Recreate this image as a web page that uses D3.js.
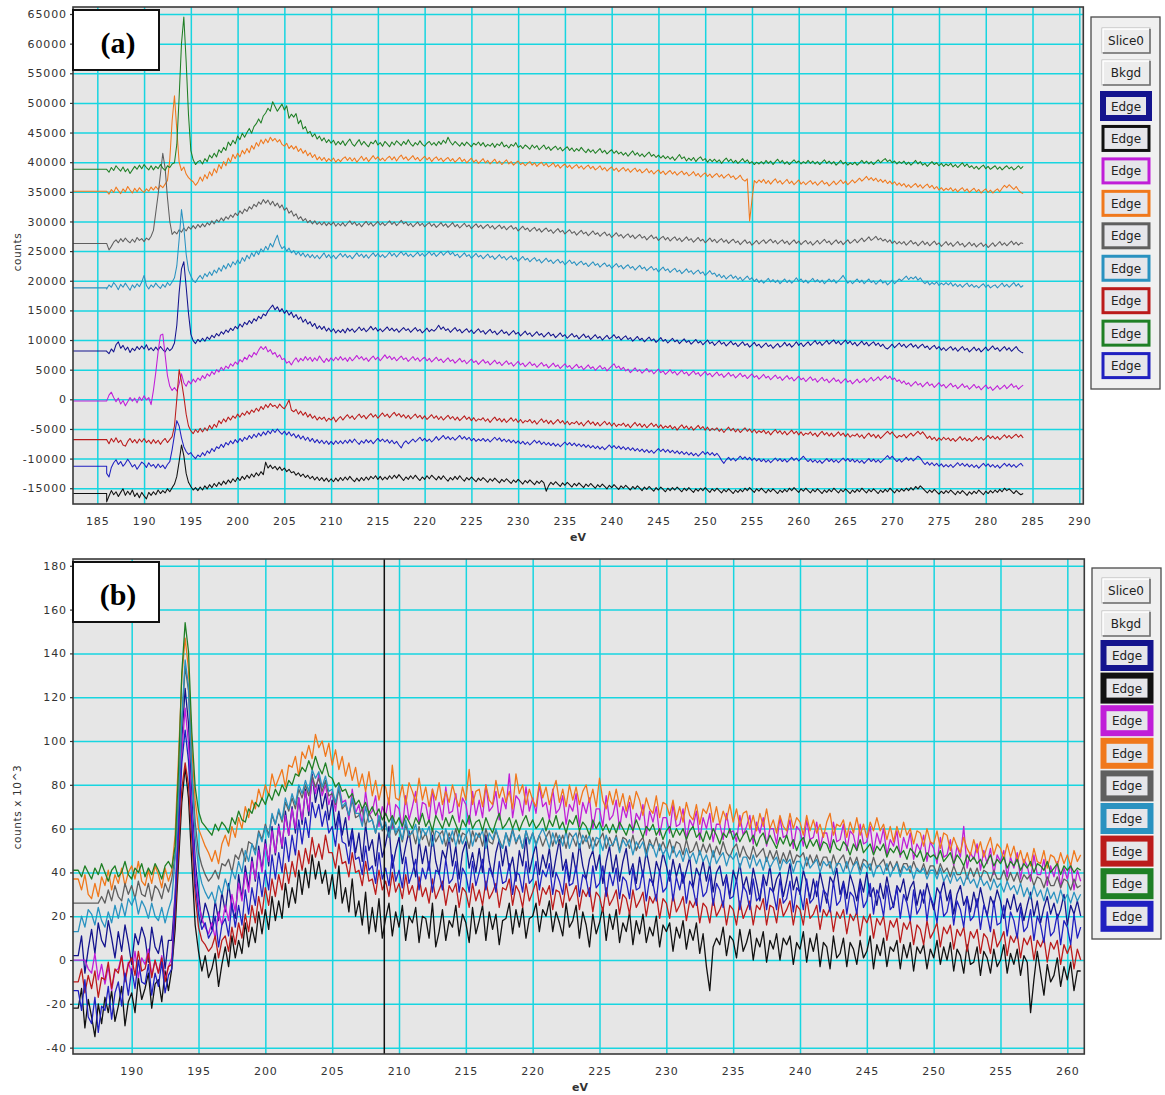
<!DOCTYPE html>
<html>
<head>
<meta charset="utf-8">
<title>EELS edge spectra</title>
<script src="https://cdn.jsdelivr.net/npm/d3@7"></script>
<style>
  html, body { margin: 0; padding: 0; background: #ffffff; }
  svg { display: block; }
</style>
</head>
<body>
<svg id="chart" width="1165" height="1095"></svg>
<script>
// ---------------- data ----------------
// Series order (same in both panels and in the legend):
// navy, black, magenta, orange, gray, teal, red, green, blue
const seriesColors = ['#14148e', '#111111', '#c01ed8', '#f0781c', '#5f5f5f', '#2a92c0', '#bb1b1b', '#1f7f25', '#2020c0'];
const legendButtons = ['Slice0', 'Bkgd'];
const edgeLabel = 'Edge';

const xTicksA = [185, 190, 195, 200, 205, 210, 215, 220, 225, 230, 235, 240, 245, 250, 255, 260, 265, 270, 275, 280, 285, 290];
const yTicksA = [-15000, -10000, -5000, 0, 5000, 10000, 15000, 20000, 25000, 30000, 35000, 40000, 45000, 50000, 55000, 60000, 65000];
const xTicksB = [190, 195, 200, 205, 210, 215, 220, 225, 230, 235, 240, 245, 250, 255, 260];
const yTicksB = [-40, -20, 0, 20, 40, 60, 80, 100, 120, 140, 160, 180];
const cursorB = 208.9;

// Panel (a): offset spectra in counts, one sample every 0.25 eV from 186 to 284 eV
const energyA = d3.range(393).map(i => 186 + i * 0.25);
// level of the flat segment drawn before the first sample
const leadA = [8150, -15900, -300, 35100, 26300, 18800, -6800, 38800, -11300];

const aNavy = [
  8100,7700,8500,8000,9200,9700,8600,9100,8300,8800,7900,8600,8200,8900,8400,9000,8500,9200,8300,8700,
  8200,8800,8300,8900,8400,8000,8700,8200,8600,9500,12500,18000,22000,23200,19000,14500,11000,9900,9400,10100,
  9700,10300,9800,10500,10100,10800,10400,11100,10700,11400,11000,11700,11300,12000,11600,12300,11900,12700,12200,13000,
  12600,13300,12800,13600,13200,14000,13600,14400,14100,14900,15400,15900,15100,15600,14800,15300,14500,15000,14200,14700,
  13800,14300,13500,13900,13000,13500,12700,13100,12300,12800,11900,12400,11800,12300,11500,12000,11400,11900,11200,11700,
  11300,11800,11200,12000,11500,11900,11300,11700,12200,11600,12000,11400,11800,12300,11700,12100,11500,11900,11400,11800,
  12200,11600,12000,11500,11900,11300,11700,12100,11600,11900,11300,11700,12100,11500,11800,11200,11600,12000,11400,11800,
  11500,11900,12500,11800,12200,11600,11900,11300,11700,12100,11500,11800,11200,11600,11900,11300,11700,11100,11500,11900,
  11300,11600,11000,11400,11800,11200,11500,10900,11300,11700,11100,11400,10800,11200,11600,11000,11300,10700,11100,11500,
  10900,11200,10600,11000,11400,10800,11100,10500,10900,11300,10700,11000,10400,10800,11200,10600,10900,10300,10700,11100,
  10500,10800,10200,10600,11000,10400,10700,10100,10500,10900,10300,10600,10000,10400,10800,10200,10500,10900,10300,10600,
  10000,10400,10700,10100,10400,9800,10200,10600,10000,10300,9700,10100,10500,9900,10200,9600,10000,10400,9800,10100,
  9500,9900,10300,9700,10000,9400,9800,10200,9600,9900,9300,9700,10100,9500,9800,9200,9600,10000,9400,9700,
  9100,9500,9900,9300,9600,9000,9400,9800,9200,9500,8900,9300,9700,9100,9400,8800,9200,9600,9000,9300,
  8700,9100,9500,8900,9200,8600,9000,9400,8800,9100,9600,9000,9400,8800,9200,9700,9100,9500,8900,9300,
  9700,9100,9500,9900,9300,9700,9100,9500,9900,9300,9700,10000,9400,9800,9200,9600,10000,9400,9800,9200,
  9600,9000,9400,9800,9200,9600,9000,9400,9700,9100,9500,8900,9300,8700,8500,8900,9300,8700,9100,9500,
  8900,9300,8700,9100,9400,8800,9200,8600,9000,9300,8700,9000,8400,8800,9100,8500,8900,8300,8700,8200,
  8600,8900,8300,8700,8100,8500,8900,8300,8600,8000,8400,8800,8200,8600,8000,8400,8800,8200,8600,9000,
  8400,8700,8100,8500,8900,8300,8700,8100,8500,8900,8300,8000,7800
];
const aBlack = [
  -17300,-16300,-15400,-16100,-15600,-16400,-15700,-15100,-16200,-15500,-16100,-15300,-16400,-15800,-16600,-15700,-16300,-16800,-15700,-16200,
  -15600,-16100,-15300,-15900,-15400,-15800,-15100,-15600,-14900,-14300,-13000,-10500,-7700,-9500,-12500,-14000,-14700,-15300,-14900,-15400,
  -14800,-15300,-14600,-15100,-14400,-14900,-14200,-14700,-14000,-14500,-13800,-14300,-13600,-14100,-13400,-13900,-13200,-13700,-13000,-13500,
  -12800,-13300,-12600,-13100,-12400,-12900,-12200,-12700,-10600,-11600,-11100,-11700,-11300,-11900,-11400,-12000,-11600,-12200,-11800,-12400,
  -12200,-12800,-12400,-13000,-12600,-13200,-12800,-13400,-13000,-13600,-13100,-13700,-13200,-13800,-13300,-13900,-13400,-13900,-13300,-13800,
  -13200,-13700,-13100,-13600,-13000,-13500,-13900,-13300,-13800,-13200,-13700,-13100,-13600,-13000,-13400,-12900,-13500,-13000,-13600,-13100,
  -13500,-12900,-13400,-12800,-13300,-12700,-13200,-13700,-13100,-13500,-12900,-13400,-12800,-13300,-13700,-13100,-13500,-12900,-13400,-12800,
  -13200,-13600,-13000,-13500,-12900,-13400,-13800,-13200,-13600,-13000,-13500,-12900,-13400,-13800,-13200,-13600,-13100,-13500,-13900,-13300,
  -13700,-13200,-13600,-14000,-13400,-13800,-13300,-13700,-14100,-13500,-13900,-13400,-13800,-14200,-13600,-14000,-13500,-13900,-14300,-13700,
  -14100,-13600,-14000,-14400,-13800,-14200,-13700,-14100,-15500,-14600,-14000,-14400,-13900,-14300,-14700,-14100,-14500,-14000,-14400,-14800,
  -14200,-14600,-14100,-14500,-14900,-14300,-14700,-14200,-14600,-15000,-14400,-14800,-14300,-14700,-15100,-14500,-14900,-14400,-14800,-15200,
  -14600,-15000,-14500,-14900,-15300,-14700,-15100,-14600,-15000,-15400,-14800,-15200,-14700,-15100,-15500,-14900,-15300,-14800,-15200,-15600,
  -15000,-15400,-14900,-15300,-14800,-15200,-15600,-15000,-15400,-14900,-15300,-15700,-15100,-15500,-15000,-15400,-14900,-15300,-15700,-15100,
  -15500,-15000,-15400,-15800,-15200,-15600,-15100,-15500,-15900,-15300,-15700,-15200,-15600,-15000,-15400,-14900,-15300,-15700,-15100,-15500,
  -15000,-15400,-15800,-15200,-15600,-15100,-15500,-15900,-15300,-15700,-15200,-15600,-15000,-15400,-14900,-15300,-15700,-15100,-15500,-15000,
  -15400,-15800,-15200,-15600,-15100,-15500,-15900,-15300,-15700,-15200,-15600,-15000,-15400,-15800,-15200,-15600,-15100,-15500,-15900,-15300,
  -15700,-15200,-15600,-15000,-15400,-15800,-15200,-15600,-15100,-15500,-15900,-15300,-15700,-15200,-15600,-15000,-15400,-15800,-15200,-15600,
  -15100,-15500,-15000,-15400,-14900,-15300,-14700,-15100,-14600,-15000,-15400,-15800,-15300,-15700,-15200,-15600,-16000,-15500,-15900,-15400,
  -15800,-15300,-15700,-16100,-15500,-15900,-15400,-15800,-16200,-15600,-16000,-15500,-15900,-15300,-15700,-16100,-15500,-15900,-15400,-15800,
  -15300,-15700,-15200,-15600,-15000,-15400,-15100,-15500,-15900,-15400,-15800,-16100,-15900
];
const aMagenta = [
  -300,700,1200,300,-400,200,-800,-200,-1100,-400,300,-300,200,-600,400,-200,600,-100,300,-900,
  1500,4500,8000,10800,11000,7500,4000,2200,1500,2000,1400,2600,4300,2800,2200,3100,2600,3400,2900,3600,
  3200,4000,3500,4300,3900,4700,4200,5000,4600,5400,4900,5600,5200,6000,5600,6300,5900,6700,6300,7100,
  6700,7500,7100,7900,7500,8300,8900,8400,8900,8000,8400,7600,7900,7100,7500,6700,6900,6100,6400,5800,
  6500,7000,6300,6900,6500,7200,6600,7100,6400,7000,6500,7300,6700,6200,6900,6400,7000,6500,7100,6600,
  7200,6600,7000,6400,7100,6500,6900,7400,6800,7200,6600,7000,6400,6900,7300,6700,7100,6500,7000,7500,
  6900,7300,6700,7100,6500,6900,7300,6700,7000,6400,6800,7200,6600,7000,6400,6800,7100,6500,6900,6300,
  6700,7100,6500,6800,6200,6600,7000,6400,6700,6100,6500,6900,6300,6600,6000,6400,6800,6200,6500,5900,
  6300,6700,6100,6400,5800,6200,6600,6000,6300,5700,6100,6500,5900,6200,5600,6000,6400,5800,6100,5500,
  5900,6300,5700,6000,5400,5800,6200,5600,5900,5300,5700,6100,5500,5800,5200,5600,6000,5400,5700,5100,
  5500,5900,5300,5600,5000,5400,5800,5200,5500,4900,5300,5700,5100,5400,4800,5200,5600,6000,5300,5600,
  5000,5400,4800,5100,4500,4900,5300,4700,5000,4400,4800,5200,4600,4900,4300,4700,5100,4500,4800,4200,
  4600,5000,4400,4700,4100,4500,4900,4300,4600,4000,4400,4800,4200,4500,3900,4300,4700,4100,4400,3800,
  4200,4600,4000,4300,3700,4100,4500,3900,4200,3600,4000,4400,3800,4100,3500,3900,4300,3700,4000,3400,
  3800,4200,3600,3900,3300,3700,4100,3500,3800,3200,3600,4000,3400,3700,3100,3500,3900,3300,3600,3000,
  3400,3800,3200,3500,2900,3300,3700,3100,3400,2800,3200,3600,3000,3300,2700,3100,3500,2900,3200,2600,
  3000,3400,2800,3100,3500,2900,3300,3700,3100,3400,3800,3200,3600,4000,3500,3900,3300,3600,3000,3300,
  2700,3100,2500,2800,2200,2600,3000,2400,2700,2100,2500,2900,2300,2600,2000,2400,2800,2200,2500,1900,
  2300,2700,2100,2400,1800,2200,2600,2000,2300,1700,2100,2500,1900,2200,1600,2000,2400,1800,2100,1500,
  1900,2300,1700,2000,2400,1800,2200,2600,2000,2300,1700,2100,2400
];
const aOrange = [
  35100,34600,35400,34900,35800,35200,34700,35500,35000,35900,35300,34800,35600,35000,35700,35200,34900,35500,35100,35800,
  35300,35900,35400,36100,35700,36300,36900,40500,47000,51200,45500,40000,38600,39200,38000,37400,37000,36700,36100,36600,
  37500,36800,37900,37200,38400,37700,38900,38200,39600,38900,40100,39400,40700,40000,41300,40600,41500,40900,42000,41400,
  42300,41600,42800,42200,43300,42700,43800,43100,43900,43300,44200,43600,44000,43400,43800,43000,42700,43200,42300,42800,
  42200,42700,41800,42300,41500,42000,41100,41600,40800,41300,40400,40900,40300,40800,40100,40600,40200,40700,40000,40500,
  40100,40600,40900,40300,40800,40200,40700,40000,40500,41000,40300,40800,40100,40600,41100,40500,40900,40300,40700,40200,
  40700,41000,40400,40900,40200,40800,41200,40500,40900,40300,40700,41100,40400,40800,40200,40600,41000,40400,40800,40100,
  40600,40900,40300,40700,40100,40500,40800,40200,40600,40000,40400,40800,40100,40500,39900,40300,40700,40000,40400,39800,
  40200,40600,39900,40300,39700,40100,40500,39800,40200,39600,40000,40400,39700,40100,39500,39900,40200,39600,39900,39400,
  39800,40100,39500,39900,39300,39700,40000,39400,39800,39200,39500,39900,39200,39600,39000,39400,39700,39100,39500,38900,
  39300,39600,39000,39400,38800,39200,39500,38900,39300,38700,39000,39400,38700,39100,38500,38900,39200,38600,39000,38400,
  38800,39100,38500,38900,38300,38700,39000,38400,38800,38200,38500,38900,38200,38600,38000,38400,38700,38100,38500,37900,
  38300,38600,38000,38400,37800,38200,38500,37900,38300,37700,38000,38400,37700,38100,37500,37900,38200,37600,38000,37400,
  37800,38100,37500,37900,37300,37700,38000,37400,37700,37100,37400,37800,37100,36800,37200,30100,33600,36900,36500,37000,
  36600,37100,36400,36900,36300,36800,37200,36500,36900,36300,36700,37100,36400,36800,36200,36600,37000,36300,36700,36200,
  36600,36900,36300,36700,36100,36500,36900,36300,36600,36000,36400,36800,36200,36600,37000,36400,36800,36200,36600,37000,
  36500,36900,37300,36800,37200,37600,37000,37400,36900,37300,36700,37100,36600,37000,36400,36800,36300,36700,36100,36500,
  36000,36400,35800,36200,35700,36100,36400,35800,36200,35600,36000,36300,35700,36100,35500,35900,35300,35700,35200,35600,
  35300,35700,35100,35500,35000,35400,35700,35100,35500,34900,35300,35600,35000,35400,34800,35200,35500,34900,35300,34800,
  35200,35500,35000,35600,36100,35700,36200,35800,35400,35900,35300,34900,34700
];
const aGray = [
  26300,25200,25800,26500,26900,26400,27100,26600,27200,26700,26400,27000,26500,27300,26800,27100,26600,27200,26900,27500,
  28500,31500,34500,38000,41500,39000,34000,30000,27800,28300,27900,28600,28200,28900,28400,29100,28700,29300,28800,29500,
  29000,29600,29100,29800,29400,30100,29600,30300,29900,30600,30100,30800,30400,31100,30700,31400,31000,31800,31300,32100,
  31700,32500,32100,32900,32500,33300,32900,33700,33100,33600,32800,33400,32600,33100,32300,32800,31900,32300,31400,31800,
  30900,31300,30400,30800,30100,30500,29800,30200,29600,30100,29500,29900,29400,29900,29300,29800,29400,29900,29200,29700,
  29300,29800,29200,29700,30100,29500,29900,29300,29700,29100,29600,30000,29400,29800,29200,29600,30000,29400,29800,29300,
  29700,30100,29500,29900,29300,29700,30200,29600,29900,29300,29700,29100,29500,29900,29300,29700,29100,29500,29800,29200,
  29600,29000,29400,29800,29200,29600,29000,29400,29800,29100,29500,28900,29300,29700,29100,29400,28800,29200,29600,29000,
  29400,28800,29200,29500,28900,29300,28700,29100,29400,28800,29200,28600,29000,29300,28700,29000,28400,28800,29200,28600,
  28900,28300,28700,29000,28400,28800,28200,28600,28900,28300,28600,28000,28400,28800,28200,28500,27900,28300,28600,28000,
  28300,27700,28100,28500,27900,28200,27600,28000,28400,27800,28100,27500,27900,28200,27600,27900,27300,27700,28100,27500,
  27800,27200,27600,27900,27300,27700,27100,27500,27800,27200,27500,26900,27300,27700,27100,27400,26800,27200,27500,26900,
  27300,26700,27100,27400,26800,27200,26600,27000,27400,26800,27100,26500,26900,27300,26700,27000,26400,26800,27200,26600,
  27000,26400,26800,27100,26500,26900,26300,26700,27000,26400,26700,26100,26500,26900,26300,26600,26000,26400,26800,26200,
  26600,26900,26300,26700,27000,26400,26800,26200,26600,26900,26300,26700,26100,26500,26900,26300,26700,26100,26500,26800,
  26200,26600,26000,26400,26800,26200,26600,27000,26400,26700,26100,26500,26900,26300,26700,26100,26500,26900,26300,26600,
  27000,26400,26800,27200,26600,27000,27400,26800,27100,27500,26900,27200,26700,27000,26500,26900,26300,26700,26200,26600,
  26200,26600,26000,26400,26800,26200,26500,25900,26300,26700,26100,26500,25900,26300,26700,26100,26400,25800,26200,26600,
  26000,26400,25800,26200,26600,26000,26300,25700,26100,26500,25900,26300,25700,26100,26400,25800,26200,25600,26000,26400,
  25800,26200,26600,26000,26400,25900,26300,26700,26100,26500,26000,26400,26300
];
const aTeal = [
  18600,19300,18900,19700,19200,18500,19400,18900,19600,19000,18400,19300,18800,19500,19000,19800,20900,19200,18600,19300,
  18900,19600,19100,18700,19400,18900,19700,19200,19800,20500,22500,27000,32000,29000,24500,21800,20800,20000,19700,20400,
  20900,20300,21200,20700,21500,20900,21800,21300,22200,21600,22600,22000,22900,22300,23200,22700,23500,22900,23900,23300,
  24300,23700,24700,24100,25000,24400,25400,24900,25800,25200,26300,25700,26800,27700,26200,25400,25800,25000,25500,24700,
  25100,24400,24900,24200,24700,24000,24500,23900,24400,23800,24300,23700,24200,24700,23900,24400,23800,24300,23700,24200,
  24600,24000,24500,23900,24300,23700,24200,24700,24100,24500,23900,24400,23800,24300,24700,24100,24600,24000,24400,23900,
  24300,24800,24200,24600,24000,24500,24900,24300,24700,24100,24500,24000,24400,24800,24200,24600,24100,24500,24900,24300,
  24700,24100,24500,24900,24300,24700,25000,24400,24800,24200,24500,23900,24300,24700,24100,24400,23800,24200,24600,24000,
  24300,23700,24100,24500,23900,24200,23600,24000,24400,23800,24100,23500,23900,24200,23600,23900,23300,23700,24100,23500,
  23800,23200,23600,23900,23300,23600,23000,23400,23800,23200,23500,22900,23300,23600,23000,23300,22700,23100,23500,22900,
  23200,22600,23000,23300,22700,23000,22400,22800,23200,22600,22900,22300,22700,23000,22400,22700,22100,22500,22900,22300,
  22600,22000,22400,22700,22100,22400,21800,22200,22600,22000,22300,21700,22100,22400,21800,22100,21500,21900,22300,21700,
  22000,21400,21800,22100,21500,21800,21200,21600,22000,21400,21700,21100,21500,21800,21200,21500,20900,21300,21700,21100,
  21300,20700,21100,20500,20900,20300,20700,21000,20400,20800,20200,20600,20000,20400,20800,20200,20500,19900,20300,19700,
  20100,19600,20000,20400,19800,20200,19700,20100,19500,19900,20300,19700,20100,19600,20000,20500,19900,20300,19700,20100,
  19600,20000,20400,19800,20200,19700,20100,19500,19900,20300,19800,20200,19600,20000,20400,20900,20200,19600,20000,19500,
  19900,20300,19700,20100,19500,19900,20300,19700,20000,19400,19800,20200,19600,19900,19300,19700,20100,19500,19900,20300,
  20000,20400,20800,20200,20600,20300,20700,20100,20500,19900,19500,19900,19300,19700,19400,19800,19200,19600,19300,19700,
  19300,19700,19100,19500,19000,19400,18900,19300,19600,19000,19400,18900,19200,18800,19200,19500,18900,19300,18800,19100,
  19300,18800,19200,19600,19000,19400,18900,19300,19700,19100,19500,18900,19200
];
const aRed = [
  -6800,-7500,-6600,-7200,-6500,-7300,-6900,-7700,-7900,-7100,-6600,-7300,-6800,-7400,-6700,-7200,-6600,-7300,-6900,-7500,
  -6800,-7400,-6900,-7600,-7000,-6600,-7300,-6800,-6300,-4500,0,5000,3000,500,-2500,-4500,-5300,-5800,-5100,-5600,
  -4900,-5500,-4800,-5300,-4400,-5000,-4200,-4700,-3600,-4100,-3300,-3800,-3000,-3500,-2800,-3200,-2500,-3000,-2300,-2700,
  -2000,-2500,-1800,-2200,-1500,-2000,-1200,-1700,-900,-1400,-700,-1200,-1000,-1500,-800,-1300,-1600,-900,-100,-1800,
  -2100,-1700,-2500,-2000,-2700,-2200,-3000,-2500,-3200,-2800,-3500,-3000,-3400,-3000,-3700,-3200,-3500,-3000,-3800,-3300,
  -2900,-3500,-3000,-2600,-3200,-2800,-3400,-2900,-2500,-3100,-2700,-3300,-2800,-2400,-3000,-2600,-3200,-2700,-2300,-2900,
  -2500,-3100,-2600,-2200,-2800,-2400,-3000,-2600,-3200,-2700,-3300,-2900,-2500,-3100,-2700,-3300,-2800,-3400,-3000,-2600,
  -3200,-2800,-3400,-2900,-3500,-3100,-2700,-3300,-2900,-3500,-3000,-3600,-3200,-2800,-3400,-3000,-3600,-3100,-3700,-3300,
  -3500,-3100,-3700,-3300,-3900,-3400,-3000,-3600,-3200,-3800,-3300,-3900,-3500,-3100,-3700,-3300,-3900,-3400,-4000,-3600,
  -3800,-3400,-4000,-3600,-4200,-3700,-3300,-3900,-3500,-4100,-3600,-4200,-3800,-3400,-4000,-3600,-4200,-3700,-4300,-3900,
  -4100,-3700,-4300,-3900,-4500,-4000,-3600,-4200,-3800,-4400,-3900,-4500,-4100,-3700,-4300,-3900,-4500,-4000,-4600,-4200,
  -4400,-4000,-4600,-4200,-4800,-4300,-3900,-4500,-4100,-4700,-4200,-4800,-4400,-4000,-4600,-4200,-4800,-4300,-4900,-4500,
  -4800,-4400,-5000,-4600,-5200,-4700,-4300,-4900,-4500,-5100,-4600,-5200,-4800,-4400,-5000,-4600,-5200,-4700,-5300,-4900,
  -5200,-4800,-5400,-5000,-5600,-5100,-4700,-5300,-4900,-5500,-5000,-5600,-5200,-4800,-5400,-5000,-5600,-5100,-5700,-5300,
  -5600,-5200,-5800,-5400,-6000,-5500,-5100,-5700,-5300,-5900,-5400,-6000,-5600,-5200,-5800,-5400,-6000,-5500,-6100,-5700,
  -5900,-5500,-6100,-5700,-6300,-5800,-5400,-6000,-5600,-6200,-5700,-6300,-5900,-5500,-6100,-5700,-6300,-5800,-6400,-6000,
  -6200,-5800,-6400,-6000,-6600,-6100,-5700,-6300,-5900,-6500,-6000,-6600,-6200,-5800,-5400,-5900,-5500,-6100,-6500,-6100,
  -6300,-5900,-6500,-6100,-5700,-6200,-5800,-5400,-5900,-5500,-6000,-6600,-6200,-6800,-6400,-7000,-6500,-6900,-6400,-6800,
  -6500,-7000,-6600,-7100,-6700,-6300,-6900,-6500,-7000,-6600,-7100,-6700,-6300,-6800,-6400,-6900,-6500,-6100,-6600,-6200,
  -6700,-6300,-6800,-6400,-6000,-6500,-6100,-6600,-6200,-5900,-6400,-6000,-6500
];
const aGreen = [
  38800,38300,39100,38600,39400,38900,38500,39200,38400,38900,38100,38700,39300,38800,39500,38900,39600,39100,38700,39400,
  38700,39300,38900,39600,39000,38600,39400,39100,39700,39900,43000,51000,60000,64500,57000,48000,42000,40400,39600,40100,
  40300,39700,40600,40100,41200,40700,41500,40900,42100,41600,42500,42000,43400,42800,43700,43100,44400,43800,44900,44200,
  45000,45700,44900,46000,46500,47300,46600,47800,48300,49100,48600,50200,49400,48600,49200,49800,48800,49500,47400,48100,
  47600,48200,46500,47100,45600,46000,44900,45200,44300,44800,43900,44400,43600,44100,43300,43800,43200,43700,42900,43500,
  43000,43600,42800,43400,43900,43100,42700,43300,43800,42900,43500,43000,42600,43400,43100,43700,42900,43300,42700,43500,
  43100,42600,43400,42900,43600,43200,42800,43500,43000,43800,43100,42700,43300,42900,43600,43000,42700,43200,43500,42900,
  43300,42800,43500,43000,43700,43200,44200,43400,42900,43500,43100,42700,43300,42800,43400,43000,42600,43200,42900,43400,
  42800,43300,42600,43000,42700,43200,42500,43100,42800,43400,42600,42900,42400,43000,42700,43300,42500,42800,42300,42900,
  42600,42200,42900,42400,42800,42100,42500,42900,42200,42600,42000,42400,42700,42100,42500,41900,42300,42600,42000,42400,
  41800,42300,41900,42500,42000,41600,42200,41700,42100,41500,41900,42300,41600,42000,41400,41800,42100,41500,41900,41400,
  41700,41200,41600,41000,41500,41900,41200,41600,41000,41400,40900,41300,41700,41000,41300,40800,41200,40700,41100,40600,
  41000,40500,40900,40300,40800,41300,40600,40900,40200,40700,40300,40800,40100,40600,40900,40300,40600,40000,40500,40100,
  40500,40000,40400,39800,40300,40700,40100,40500,39900,40300,39800,40200,40600,40000,40400,39800,40100,39600,40000,39700,
  40100,39700,40300,39800,40200,39600,40100,40500,39900,40300,39700,40100,39600,40000,40400,39900,40200,39700,40100,39800,
  40300,39800,40200,39700,40100,39600,40000,40400,39800,40200,39700,40100,39500,39900,40300,39700,40000,39500,39900,39600,
  40000,39500,39900,40300,39800,40200,39700,40100,39600,40000,40400,39900,40300,40600,40100,40400,39900,40200,39700,40100,
  39800,40200,39600,40000,39500,39900,40300,39700,40100,39500,39800,39300,39700,40100,39600,39900,39400,39800,39300,39700,
  39400,39800,39200,39600,39100,39500,39900,39300,39700,39100,39400,38900,39300,38800,39200,39500,38900,39300,38800,39100,
  39400,38800,39200,38700,39100,39400,38900,39200,38700,39000,39400,38900,39300
];
const aBlue = [
  -12500,-13100,-11500,-10700,-10200,-11000,-10500,-11300,-10800,-10100,-10700,-11400,-11000,-11800,-11200,-10600,-10900,-11500,-10700,-11300,
  -11000,-11600,-10900,-11500,-11100,-11700,-11000,-10500,-8500,-6000,-3600,-4500,-6500,-8000,-8800,-9300,-9000,-9600,-10000,-9400,
  -9700,-9000,-9500,-8700,-9100,-8300,-8800,-8000,-8300,-7600,-8100,-7300,-7700,-7000,-7500,-6800,-7300,-6600,-7100,-6400,
  -6800,-6100,-6600,-5900,-6400,-5700,-6200,-5500,-6000,-5300,-5800,-5100,-5600,-5000,-5500,-5900,-5400,-6000,-5500,-6200,
  -5800,-6500,-6000,-6700,-6200,-6900,-6400,-7100,-6600,-7300,-6800,-7400,-6900,-7500,-7000,-7600,-7100,-7600,-7000,-7500,
  -7000,-7500,-6900,-7400,-6800,-7300,-6700,-7200,-7600,-7000,-7400,-6800,-7300,-6900,-7500,-7000,-6600,-7100,-6700,-7200,
  -6800,-7400,-6900,-7500,-7100,-7700,-8200,-7400,-7000,-7500,-7100,-6700,-7200,-6800,-6400,-7000,-6600,-7100,-6700,-7200,
  -6800,-6300,-6900,-6500,-6100,-6700,-6300,-6800,-6400,-6900,-6500,-6100,-6700,-6300,-6800,-6400,-7000,-6600,-7100,-6700,
  -7000,-6600,-7100,-6700,-7200,-6800,-6400,-6900,-6500,-7100,-6700,-7200,-6800,-7300,-6900,-7400,-7000,-7500,-7100,-7600,
  -7200,-7700,-7300,-6900,-7400,-7000,-7600,-7200,-7700,-7300,-7800,-7400,-7900,-7500,-8000,-7600,-7200,-7700,-7300,-7800,
  -7400,-7900,-7500,-8000,-7600,-8100,-7700,-8200,-7800,-8300,-7900,-8400,-8000,-8500,-8100,-7700,-8200,-7800,-8300,-7900,
  -8400,-8000,-8500,-8100,-8600,-8200,-8700,-8300,-8800,-8400,-8900,-8500,-9000,-8600,-9100,-8700,-8300,-8800,-8400,-8900,
  -8500,-9000,-8600,-9100,-8700,-9200,-8800,-9300,-8900,-9400,-9000,-9500,-9100,-9600,-9200,-8800,-9300,-8900,-9400,-9000,
  -9500,-9100,-9600,-10300,-10800,-10200,-9800,-10300,-9900,-10400,-10000,-9600,-10100,-9700,-10200,-9800,-10300,-9900,-10400,-10000,
  -10500,-10100,-10600,-10200,-10700,-10300,-9900,-10400,-10000,-10500,-10100,-10600,-10200,-9800,-10300,-9900,-10400,-10000,-9600,-10100,
  -10500,-10100,-10600,-10200,-10700,-10300,-10800,-10400,-10000,-10500,-10100,-10600,-10200,-10700,-10300,-9900,-10400,-10000,-10500,-10100,
  -10600,-10200,-10700,-10300,-10800,-10400,-10000,-10500,-10100,-10600,-10200,-10700,-10300,-9900,-9500,-10000,-9600,-10100,-10500,-10100,
  -10600,-10200,-9800,-10300,-9900,-10400,-10000,-9600,-9900,-10500,-11000,-10600,-11100,-10700,-11200,-10800,-11300,-10900,-11400,-11000,
  -11400,-11000,-11500,-11100,-10700,-11200,-10800,-11300,-10900,-11400,-11000,-11500,-11100,-11600,-11200,-10800,-11300,-10900,-11400,-11000,
  -11500,-11100,-11600,-11200,-10800,-11300,-10900,-11400,-11000,-11500,-11100,-10800,-11300
];

// Panel (b): overlaid spectra in counts x 10^3, one sample every 0.25 eV from 186 to 261 eV
const energyB = d3.range(301).map(i => 186 + i * 0.25);
const leadB = [2, -22, 0, 37, 26, 13, -10, 41, -14];

const bNavy = [
  2,11,-6,5,14,3,17,9,6,18,10,1,13,4,16,8,-2,12,7,15,
  10,-1,15,6,3,11,-4,9,9,30,62,100,124,108,74,46,30,17,26,21,
  14,27,18,31,22,35,24,19,39,28,43,33,47,36,52,41,55,43,61,48,
  62,51,68,57,70,58,74,62,78,66,85,72,80,69,76,64,73,60,68,57,
  65,52,60,49,58,45,62,50,55,43,58,47,53,61,42,50,56,44,52,59,
  47,38,55,44,52,41,57,45,39,50,46,56,43,52,37,49,54,42,49,40,
  51,40,57,45,38,49,55,43,52,41,47,36,50,43,56,40,47,53,39,48,
  42,51,38,47,55,41,46,36,49,40,53,43,37,46,50,41,48,35,45,52,
  40,48,36,45,51,39,44,35,47,38,50,42,34,45,40,49,43,36,46,38,
  44,35,41,47,33,42,38,45,36,44,31,40,43,34,39,29,41,36,44,33,
  38,30,42,35,27,39,34,43,31,37,40,29,36,44,32,38,30,41,35,28,
  37,29,40,33,26,38,35,42,30,36,28,39,34,27,37,31,40,29,33,25,
  35,28,38,30,24,34,31,37,27,33,36,25,32,26,35,29,23,33,30,36,
  27,32,21,30,34,25,29,22,31,24,33,26,20,29,25,32,27,19,28,23,
  30,22,26,18,25,31,20,27,17,24,29,21,26,19,23,30,16,25,21,27,
  20
];
const bBlack = [
  -22,-13,-31,-18,-26,-35,-20,-29,-17,-24,-14,-28,-21,-12,-30,-19,-15,-24,-8,-18,
  -13,-6,-22,-11,-9,-19,-5,-14,-4,14,44,72,88,74,44,16,4,-5,2,-8,
  -4,3,-12,-2,6,-3,11,1,9,3,17,6,15,8,22,12,23,14,29,18,
  27,19,35,24,33,26,41,30,42,33,48,37,45,35,41,30,39,28,43,26,
  33,22,37,20,27,16,31,12,24,13,28,10,19,26,11,22,15,25,9,20,
  17,24,8,20,19,10,26,6,13,23,9,18,15,25,11,21,17,8,24,12,
  18,25,9,22,14,21,7,18,19,26,12,23,15,24,10,19,20,26,13,23,
  20,27,13,22,17,11,26,15,18,25,10,22,16,6,21,12,17,24,9,21,
  14,23,8,17,13,22,7,18,12,21,8,15,11,20,6,16,13,17,4,15,
  10,18,5,14,9,17,3,12,-3,-14,6,10,7,15,2,11,9,1,14,4,
  8,14,0,10,6,13,-1,9,5,12,0,10,7,11,-2,8,5,13,-1,10,
  4,12,-3,8,6,-4,11,1,3,10,-3,8,5,-2,9,1,4,11,-4,7,
  2,10,-3,6,4,9,-4,7,1,8,-5,6,3,7,-4,5,1,9,-2,6,
  0,8,-5,5,2,-6,7,-2,-1,6,-7,4,1,-6,5,-3,0,7,-6,3,
  -2,5,-7,2,-1,-24,-9,4,-6,-16,-2,-10,-7,1,-12,-3,-9,-1,-14,-5,
  -5
];
const bMagenta = [
  0,0,0,-4,-6,3,-9,-2,-11,-3,-14,-5,-4,2,-9,-1,-6,4,-8,1,
  -2,5,-7,0,-6,2,-9,-3,1,28,60,95,115,99,67,40,26,19,15,12,
  17,10,22,16,25,18,30,22,35,27,40,31,45,37,50,40,53,45,59,49,
  61,52,66,57,69,60,74,64,77,68,84,76,85,75,80,71,77,68,80,72,
  73,64,78,67,71,62,77,66,68,75,61,70,66,74,60,71,69,60,75,64,
  70,77,62,72,71,63,78,66,72,64,79,67,68,76,63,74,71,62,77,66,
  73,65,80,68,70,77,64,74,69,85,65,75,73,66,79,68,74,67,80,70,
  72,64,78,67,69,75,62,71,68,76,61,72,67,74,60,69,69,61,75,64,
  66,73,60,70,65,72,58,67,64,71,57,68,63,70,57,65,65,58,71,61,
  62,69,55,64,61,68,55,65,60,67,54,62,62,55,67,58,59,54,66,57,
  61,66,53,63,58,65,52,60,60,53,65,56,57,64,51,61,59,52,64,55,
  56,63,51,58,58,51,63,54,55,62,50,59,57,50,62,53,54,61,49,58,
  53,60,48,55,52,59,47,56,51,58,46,53,50,57,45,54,51,44,56,47,
  48,55,43,52,47,61,42,49,46,53,41,50,44,51,39,48,45,50,38,47,
  42,49,37,46,43,36,48,39,39,46,34,43,38,45,33,42,37,44,32,41,
  36
];
const bOrange = [
  37,32,39,30,28,35,29,38,34,41,32,39,35,42,34,40,43,37,45,36,
  34,41,35,43,39,33,42,36,41,57,92,129,147,133,97,73,60,56,52,49,
  45,50,44,53,57,52,61,56,65,60,70,65,73,69,78,73,80,75,85,79,
  83,87,79,89,88,93,84,95,92,98,92,103,97,100,93,99,89,96,87,93,
  84,90,82,88,79,85,77,86,75,82,73,80,79,71,89,74,73,80,71,81,
  77,72,83,73,79,70,78,73,81,71,77,72,80,74,70,79,73,87,71,77,
  78,70,80,73,71,82,74,79,72,77,69,85,76,80,71,78,73,70,81,74,
  79,71,77,82,72,78,70,80,73,79,71,77,80,72,78,70,83,73,69,77,
  71,78,70,76,68,75,69,77,73,66,74,69,67,75,65,72,71,66,73,64,
  70,63,72,66,64,71,62,69,67,72,63,70,62,68,64,71,63,69,61,67,
  68,60,66,59,67,61,69,60,64,58,66,61,59,67,60,65,63,57,66,59,
  64,58,62,56,63,67,57,62,61,64,56,63,58,65,57,62,56,63,59,65,
  59,62,55,61,54,61,56,63,57,60,53,59,58,52,60,54,53,59,51,58,
  57,50,56,52,49,56,51,48,55,49,54,47,52,56,48,53,51,46,53,47,
  52,45,50,44,49,43,51,45,44,50,42,48,47,43,49,44,48,43,50,45,
  48
];
const bGray = [
  26,26,26,26,26,26,26,29,26,32,27,34,29,27,35,30,34,28,36,30,
  29,35,27,34,32,28,35,31,37,48,72,108,134,123,87,63,49,43,39,36,
  38,41,37,44,43,46,40,48,46,51,45,54,53,50,59,55,62,57,66,62,
  68,63,72,68,74,69,78,74,80,75,84,79,83,77,82,75,76,71,78,69,
  71,66,73,65,66,69,61,67,64,58,65,59,62,56,63,57,60,54,62,56,
  59,53,61,55,58,52,60,54,57,59,52,58,54,60,53,58,57,51,59,54,
  58,52,60,54,53,59,55,51,58,54,60,53,57,51,59,54,58,53,57,52,
  56,59,52,58,53,57,51,58,56,52,59,53,57,51,56,52,55,58,51,56,
  52,57,50,56,55,51,57,50,54,56,49,55,51,56,50,54,50,55,49,54,
  53,48,55,49,50,54,48,53,49,53,47,52,48,54,49,47,51,53,47,52,
  48,46,52,47,49,51,45,50,46,50,44,49,45,50,44,48,47,49,43,48,
  44,48,43,47,47,42,48,43,46,48,42,47,43,47,41,46,45,41,47,42,
  44,46,41,45,41,45,40,44,44,40,45,41,40,44,39,43,43,39,44,40,
  42,38,43,39,39,43,37,42,38,42,37,41,40,36,41,37,37,41,36,40,
  36,40,35,39,37,39,34,38,37,33,38,34,34,38,33,37,36,32,37,33,
  34
];
const bTeal = [
  13,20,15,23,21,16,24,18,15,22,17,25,19,26,20,28,25,29,21,27,
  24,19,26,20,18,24,17,23,28,46,74,110,137,125,85,57,42,35,31,28,
  31,26,34,30,37,32,41,37,45,40,50,45,53,48,58,54,61,56,67,62,
  69,64,74,69,76,71,80,76,82,77,87,83,86,79,84,77,78,72,80,70,
  72,66,74,67,67,61,70,63,64,58,66,60,63,56,65,58,61,55,64,57,
  58,62,53,60,57,61,52,59,58,53,60,54,59,52,58,53,57,60,52,58,
  56,59,51,58,55,60,54,51,58,52,59,54,57,51,59,53,58,52,57,60,
  56,51,58,53,57,52,59,51,56,58,51,57,54,57,50,56,55,50,57,52,
  53,56,49,55,52,55,48,54,51,54,47,53,52,47,53,48,51,46,52,47,
  50,45,51,46,49,44,50,45,48,43,50,44,47,49,43,48,46,49,42,47,
  47,42,48,43,46,41,47,42,45,47,41,46,44,46,40,45,45,41,47,42,
  44,46,40,45,43,45,39,44,44,40,45,39,43,45,39,44,42,44,38,43,
  43,39,44,38,42,44,38,43,41,43,37,42,40,42,37,41,41,37,42,36,
  39,35,40,36,38,34,39,35,37,33,38,34,36,32,37,33,35,31,36,32,
  34,30,35,29,33,28,34,29,32,27,33,28,31,26,32,27,30,26,31,27,
  30
];
const bRed = [
  -10,-4,-15,-7,-13,-5,-17,-8,-9,-1,-13,-4,-6,2,-10,-2,1,-7,4,-5,
  -4,3,-8,0,-6,1,-10,-3,-2,20,50,78,90,80,55,30,15,9,7,4,
  6,11,1,9,11,4,15,7,17,10,21,13,25,17,29,21,33,25,37,29,
  39,32,44,35,45,38,50,41,51,44,56,47,53,46,57,49,49,42,53,44,
  45,38,49,40,41,34,45,36,37,30,41,32,36,29,40,31,35,28,39,30,
  34,27,38,29,33,26,37,28,32,36,25,34,31,35,24,33,31,24,35,27,
  32,25,36,28,31,35,24,33,32,37,25,34,31,24,35,27,31,36,25,33,
  30,34,23,32,31,24,35,27,30,34,23,32,29,33,22,31,29,22,33,25,
  28,32,21,30,28,21,32,24,27,31,20,29,26,30,19,28,26,19,30,22,
  25,29,18,27,24,28,17,26,24,17,28,20,23,27,16,25,23,16,27,19,
  23,27,16,25,23,28,16,25,24,17,28,20,23,27,16,25,23,16,28,19,
  21,25,14,23,20,24,13,22,19,23,12,21,18,22,11,20,17,21,10,19,
  16,20,9,18,15,19,8,17,14,18,7,16,14,7,18,10,13,17,6,15,
  12,16,5,14,11,15,4,13,10,14,3,12,10,3,14,6,9,13,2,11,
  8,12,1,10,7,11,0,9,6,10,-1,8,5,9,-2,7,3,7,-4,5,
  0
];
const bGreen = [
  41,38,43,40,37,42,39,44,40,36,41,43,38,40,45,39,37,42,40,44,
  38,42,39,44,41,37,43,45,42,52,86,131,154,141,104,79,68,63,61,59,
  57,62,59,63,61,58,65,62,68,64,63,69,67,72,70,74,71,76,73,78,
  75,80,77,82,80,85,84,88,86,91,87,93,88,85,90,84,83,79,81,77,
  78,74,76,71,73,69,72,67,70,66,69,64,67,63,66,62,65,61,66,63,
  60,65,62,67,61,64,59,66,63,60,65,61,66,62,58,64,61,66,60,63,
  64,59,65,61,58,63,67,60,62,65,60,64,59,63,66,61,64,60,62,65,
  59,64,61,66,60,63,58,64,62,66,59,63,61,57,64,60,63,59,62,58,
  62,58,63,60,57,62,59,64,60,56,61,59,62,57,60,55,59,61,56,60,
  57,60,55,59,61,56,58,54,59,55,60,57,53,58,56,60,55,58,54,57,
  59,54,57,52,56,58,53,57,54,51,56,53,57,52,55,50,54,56,51,55,
  52,55,50,54,53,49,55,51,50,54,52,48,53,50,55,49,51,53,48,52,
  50,53,47,51,49,52,48,50,46,51,49,47,50,45,49,47,48,46,50,45,
  47,49,44,48,46,43,48,45,47,44,46,42,45,48,43,46,44,47,42,45,
  43,46,41,44,42,45,40,44,43,41,45,40,42,44,39,43,41,43,40,42,
  41
];
const bBlue = [
  -14,-23,-9,-26,-29,-17,-33,-21,-23,-12,-27,-15,-10,-21,-6,-16,-4,-13,0,-10,
  -11,-2,-16,-6,-12,-1,-15,-7,-4,25,58,90,105,91,62,35,21,14,17,10,
  13,20,6,16,19,11,26,15,25,16,32,21,33,25,40,29,41,32,48,37,
  49,40,56,45,57,48,64,53,65,56,72,65,71,61,68,58,61,52,66,54,
  53,44,58,46,47,39,52,41,43,35,49,37,42,34,48,36,41,33,47,35,
  40,46,32,42,37,45,31,41,40,32,46,35,37,45,31,42,39,31,45,34,
  40,46,32,42,39,31,45,35,36,44,30,40,39,31,45,35,37,45,32,41,
  38,44,30,40,36,30,44,34,35,43,29,39,37,29,43,33,35,43,29,40,
  34,42,28,38,36,28,42,32,33,41,27,37,35,27,41,31,33,41,27,38,
  32,40,26,36,33,25,39,29,31,39,25,35,32,24,38,28,29,37,23,34,
  31,23,37,27,29,37,23,33,31,23,37,26,28,36,22,33,31,23,37,26,
  28,36,22,32,30,22,36,25,27,35,21,31,29,21,35,24,27,35,21,32,
  28,20,34,23,25,33,19,30,26,18,32,21,24,32,18,29,25,17,31,20,
  22,30,16,27,23,15,29,18,20,28,14,25,21,13,27,16,17,25,11,22,
  18,10,24,13,15,23,9,20,16,8,22,11,13,21,7,18,15,7,21,10,
  15
];

const seriesA = [aNavy, aBlack, aMagenta, aOrange, aGray, aTeal, aRed, aGreen, aBlue];
const seriesB = [bNavy, bBlack, bMagenta, bOrange, bGray, bTeal, bRed, bGreen, bBlue];

// ---------------- drawing ----------------
const FONT = '"DejaVu Sans", Verdana, sans-serif';
const GRID = '#17d5e0';
const svg = d3.select('#chart');
const defs = svg.append('defs');

function drawPanel(p) {
  const x = d3.scaleLinear().domain(p.xDomain).range([p.left, p.right]);
  const y = d3.scaleLinear().domain(p.yDomain).range([p.bottom, p.top]);
  const w = p.right - p.left, h = p.bottom - p.top;
  const g = svg.append('g');

  g.append('rect').attr('x', p.left).attr('y', p.top).attr('width', w).attr('height', h)
    .attr('fill', '#e6e6e6');

  // grid lines at every tick
  const gx = g.append('g').attr('transform', `translate(0,${p.bottom})`)
    .call(d3.axisBottom(x).tickValues(p.xTicks).tickSize(-h).tickFormat(''));
  const gy = g.append('g').attr('transform', `translate(${p.left},0)`)
    .call(d3.axisLeft(y).tickValues(p.yTicks).tickSize(-w).tickFormat(''));
  [gx, gy].forEach(s => {
    s.select('.domain').remove();
    s.selectAll('line').attr('stroke', GRID).attr('stroke-width', 1.5);
  });

  defs.append('clipPath').attr('id', p.id).append('rect')
    .attr('x', p.left).attr('y', p.top).attr('width', w).attr('height', h);
  const plot = g.append('g').attr('clip-path', `url(#${p.id})`);

  const line = d3.line().x(d => x(d[0])).y(d => y(d[1]));
  p.series.forEach((vals, k) => {
    const pts = [[p.xDomain[0], p.lead[k]], [p.energy[0], p.lead[k]]]
      .concat(vals.map((v, i) => [p.energy[i], v]));
    plot.append('path')
      .attr('d', line(pts))
      .attr('fill', 'none')
      .attr('stroke', seriesColors[k])
      .attr('stroke-width', p.lineWidth)
      .attr('stroke-linejoin', 'round');
  });

  if (p.cursor != null) {
    plot.append('line')
      .attr('x1', x(p.cursor)).attr('x2', x(p.cursor))
      .attr('y1', p.top).attr('y2', p.bottom)
      .attr('stroke', '#111').attr('stroke-width', 1.5);
  }

  // frame
  g.append('rect').attr('x', p.left).attr('y', p.top).attr('width', w).attr('height', h)
    .attr('fill', 'none').attr('stroke', '#3a3a3a').attr('stroke-width', 1.6);

  // axes with labels
  const ax = g.append('g').attr('transform', `translate(0,${p.bottom})`)
    .call(d3.axisBottom(x).tickValues(p.xTicks).tickSize(0).tickPadding(13).tickFormat(d => String(d)));
  ax.select('.domain').remove();
  const ay = g.append('g').attr('transform', `translate(${p.left},0)`)
    .call(d3.axisLeft(y).tickValues(p.yTicks).tickSize(3).tickPadding(3).tickFormat(d => String(d)));
  ay.select('.domain').remove();
  ay.selectAll('line').attr('stroke', '#333').attr('stroke-width', 1.2);
  [ax, ay].forEach(s => {
    s.attr('font-family', FONT).attr('font-size', 11);
    s.selectAll('text').attr('fill', '#333').style('letter-spacing', '0.9px');
  });

  g.append('text').attr('x', p.xTitle[0]).attr('y', p.xTitle[1])
    .attr('text-anchor', 'middle').attr('font-family', FONT).attr('font-size', 11)
    .attr('font-weight', 'bold').attr('fill', '#333').text('eV');
  g.append('text').attr('transform', `translate(${p.yTitle[0]},${p.yTitle[1]}) rotate(-90)`)
    .attr('text-anchor', 'middle').attr('font-family', FONT).attr('font-size', 10.5)
    .attr('fill', '#333').style('letter-spacing', '0.6px').text(p.yLabel);

  // panel tag
  g.append('rect').attr('x', p.left).attr('y', p.tag[1]).attr('width', 86).attr('height', 60)
    .attr('fill', '#ffffff').attr('stroke', '#111').attr('stroke-width', 2);
  g.append('text').attr('x', p.tag[0]).attr('y', p.tag[1] + 43)
    .attr('text-anchor', 'middle')
    .attr('font-family', '"Liberation Serif", "Times New Roman", serif')
    .attr('font-weight', 'bold').attr('font-size', 30).attr('fill', '#000')
    .text(p.tagText);
}

function drawLegend(L) {
  const g = svg.append('g').attr('font-family', FONT).attr('font-size', 12);
  g.append('rect').attr('x', L.x).attr('y', L.y).attr('width', L.w).attr('height', L.h)
    .attr('fill', '#f0f0f0').attr('stroke', '#4a4a4a').attr('stroke-width', 1.3);

  legendButtons.forEach((lab, i) => {
    const cy = L.plainCenter + i * L.plainStep;
    const bx = L.plainX, bw = L.plainW, bh = 25, by = cy - bh / 2;
    g.append('rect').attr('x', bx).attr('y', by).attr('width', bw).attr('height', bh)
      .attr('fill', '#ececec').attr('stroke', '#b8b8b8').attr('stroke-width', 1);
    g.append('path').attr('d', `M${bx + 1},${by + bh - 1}V${by + 1}H${bx + bw - 1}`)
      .attr('fill', 'none').attr('stroke', '#ffffff').attr('stroke-width', 1.5);
    g.append('path').attr('d', `M${bx + 1},${by + bh}H${bx + bw}V${by + 1}`)
      .attr('fill', 'none').attr('stroke', '#707070').attr('stroke-width', 1.6);
    g.append('text').attr('x', bx + bw / 2).attr('y', cy + 4.5).attr('text-anchor', 'middle')
      .attr('fill', '#222').text(lab);
  });

  seriesColors.forEach((c, i) => {
    const cy = L.edgeCenter + i * L.edgeStep;
    const sw = L.thick[i] ? L.thickW : L.thinW;
    g.append('rect').attr('x', L.edgeX).attr('y', cy - L.edgeH / 2)
      .attr('width', L.edgeW).attr('height', L.edgeH)
      .attr('fill', '#e6e6ea').attr('stroke', c).attr('stroke-width', sw);
    g.append('text').attr('x', L.edgeX + L.edgeW / 2).attr('y', cy + 4.5)
      .attr('text-anchor', 'middle').attr('fill', '#222').text(edgeLabel);
  });
}

drawPanel({
  id: 'clipA', left: 73, right: 1083.3, top: 7, bottom: 504,
  xDomain: [182.40, 290.43], yDomain: [-17660, 66180],
  xTicks: xTicksA, yTicks: yTicksA,
  energy: energyA, series: seriesA, lead: leadA, lineWidth: 1.05,
  xTitle: [578, 541], yTitle: [21, 252], yLabel: 'counts',
  tag: [118, 10], tagText: '(a)'
});

drawPanel({
  id: 'clipB', left: 73, right: 1084.3, top: 559, bottom: 1054,
  xDomain: [185.61, 261.27], yDomain: [-42.9, 183.1],
  xTicks: xTicksB, yTicks: yTicksB,
  energy: energyB, series: seriesB, lead: leadB, lineWidth: 1.3,
  cursor: cursorB,
  xTitle: [580, 1091], yTitle: [21, 807], yLabel: 'counts x 10^3',
  tag: [118, 562], tagText: '(b)'
});

drawLegend({
  x: 1091, y: 17, w: 69, h: 372,
  plainX: 1102, plainW: 48, plainCenter: 40.5, plainStep: 32,
  edgeX: 1103, edgeW: 46, edgeH: 24, edgeCenter: 106, edgeStep: 32.45,
  thick: [true, false, false, false, false, false, false, false, false],
  thinW: 3, thickW: 6
});

drawLegend({
  x: 1092, y: 568, w: 69, h: 371,
  plainX: 1102, plainW: 48, plainCenter: 590.5, plainStep: 33,
  edgeX: 1103.5, edgeW: 47, edgeH: 25, edgeCenter: 655.5, edgeStep: 32.6,
  thick: [true, true, true, true, true, true, true, true, true],
  thinW: 3, thickW: 6
});
</script>
</body>
</html>
